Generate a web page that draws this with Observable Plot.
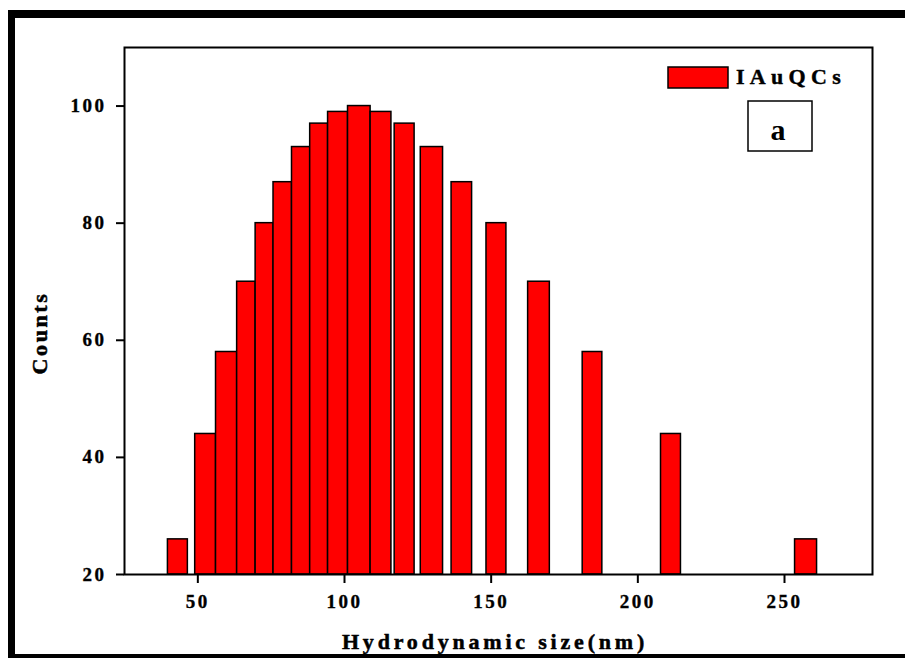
<!DOCTYPE html>
<html><head><meta charset="utf-8">
<script src="https://cdn.jsdelivr.net/npm/d3@7"></script>
<script src="https://cdn.jsdelivr.net/npm/@observablehq/plot@0.6"></script>
<style>
html,body{margin:0;padding:0;background:#fff;overflow:hidden;}
#wrap{position:relative;width:905px;height:658px;overflow:hidden;}
#wrap svg{display:block;}
#border{position:absolute;left:8px;top:10px;width:1000px;height:652px;box-sizing:border-box;border-left:7px solid #000;border-top:8px solid #000;border-bottom:8px solid #000;pointer-events:none;}
svg text{font-family:"Liberation Serif","Times New Roman",serif;}
[aria-label="y-axis tick label"] text,[aria-label="x-axis tick label"] text{letter-spacing:2.5px;stroke:#000;stroke-width:0.35px;}
</style></head>
<body><div id="wrap"><div id="border"></div></div>
<script>
// Bin edges (nm)
const binStart = [39.8, 49.1, 56.2, 63.4, 69.7, 75.8, 82.1, 88.3, 94.4, 101.2, 108.9, 117.1, 126.0, 136.5, 148.4, 162.6, 181.2, 207.9, 253.6];
const binEnd   = [46.6, 56.2, 63.4, 69.7, 75.8, 82.1, 88.3, 94.4, 101.2, 108.9, 116.0, 123.9, 133.6, 143.5, 155.2, 170.0, 187.9, 214.7, 261.1];
const counts   = [26, 44, 58, 70, 80, 87, 93, 97, 99, 100, 99, 97, 93, 87, 80, 70, 58, 44, 26];
const xTicks = [50, 100, 150, 200, 250];
const yTicks = [20, 40, 60, 80, 100];
const xDomain = [25, 280];
const yDomain = [20, 110];
const xLabel = "Hydrodynamic size(nm)";
const yLabel = "Counts";
const legendLabel = "IAuQCs";
const panelLabel = "a";

const bars = counts.map((c, i) => ({x1: binStart[i], x2: binEnd[i], base: yDomain[0], count: c}));

const chart = Plot.plot({
  width: 905, height: 658,
  marginLeft: 124, marginRight: 33, marginTop: 47, marginBottom: 84,
  x: {domain: xDomain},
  y: {domain: yDomain},
  style: {fontFamily: "'Liberation Serif','Times New Roman',serif", background: "transparent", color: "#000"},
  marks: [
    Plot.rect(bars, {x1: "x1", x2: "x2", y1: "base", y2: "count", fill: "#ff0000", stroke: "#000", strokeWidth: 1.5}),
    Plot.frame({stroke: "#000", strokeWidth: 2}),
    Plot.axisX({ticks: xTicks, tickSize: 9, tickPadding: 11, strokeWidth: 2, fontSize: 19, fontWeight: "bold", label: null}),
    Plot.axisY({ticks: yTicks, tickSize: 8, tickPadding: 10, strokeWidth: 2, fontSize: 19, fontWeight: "bold", label: null})
  ]
});

const svg = d3.select(chart);
const font = "'Liberation Serif','Times New Roman',serif";

// Axis titles
svg.append("text").attr("x", 495).attr("y", 649).attr("text-anchor", "middle")
  .attr("font-family", font).attr("font-size", 22).attr("font-weight", "bold")
  .attr("stroke", "#000").attr("stroke-width", 0.5)
  .style("letter-spacing", "3.8px").attr("fill", "#000").text(xLabel);
svg.append("text").attr("transform", "translate(47,333) rotate(-90)").attr("text-anchor", "middle")
  .attr("font-family", font).attr("font-size", 22).attr("font-weight", "bold")
  .attr("stroke", "#000").attr("stroke-width", 0.5)
  .style("letter-spacing", "2.6px").attr("fill", "#000").text(yLabel);

// Legend
const lg = svg.append("g").attr("aria-label", "legend");
lg.append("rect").attr("x", 668).attr("y", 67).attr("width", 60).attr("height", 21)
  .attr("fill", "#ff0000").attr("stroke", "#000").attr("stroke-width", 1.5);
lg.append("text").attr("x", 736).attr("y", 84).attr("text-anchor", "start").text(legendLabel)
  .attr("font-family", font).attr("font-size", 22).attr("font-weight", "bold")
  .attr("stroke", "#000").attr("stroke-width", 0.4)
  .style("letter-spacing", "5.3px").attr("fill", "#000");

// Panel label box
const pn = svg.append("g").attr("aria-label", "panel");
pn.append("rect").attr("x", 748).attr("y", 101).attr("width", 64).attr("height", 50)
  .attr("fill", "#fff").attr("stroke", "#000").attr("stroke-width", 1.5);
pn.append("text").attr("x", 778).attr("y", 140).attr("text-anchor", "middle").text(panelLabel)
  .attr("font-family", font).attr("font-size", 30).attr("font-weight", "bold").attr("fill", "#000");

const wrap = document.getElementById("wrap");
wrap.insertBefore(chart, document.getElementById("border"));
</script>
</body></html>
